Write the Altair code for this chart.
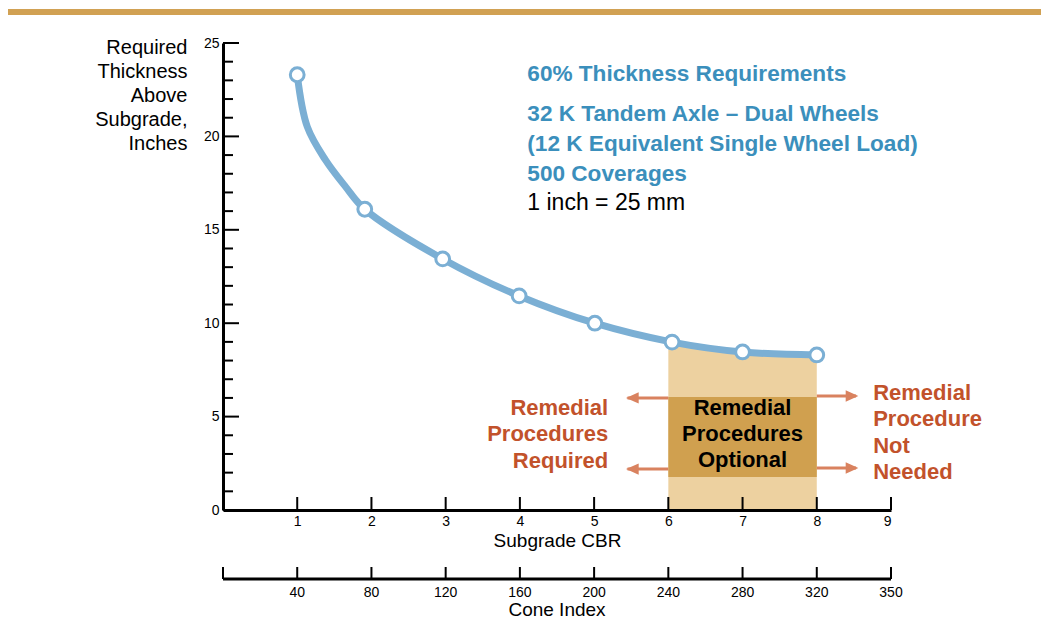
import altair as alt
import pandas as pd

# ---- data ----
# circle markers on the curve
cbr = [1.0, 1.91, 2.96, 3.99, 5.01, 6.05, 7.0, 8.0]
thickness = [23.3, 16.1, 13.44, 11.46, 10.0, 8.99, 8.46, 8.3]

# the drawn curve (markers plus samples on the steep part)
curve_cbr = [1.0, 1.135, 1.38, 1.65, 1.91, 2.96, 3.99, 5.01, 6.05, 7.0, 8.0]
curve_t = [23.3, 20.52, 18.74, 17.31, 16.1, 13.44, 11.46, 10.0, 8.99, 8.46, 8.3]

# optional-procedure zone (tan area under the curve)
zone_cbr = [6.0, 7.0, 8.0]
zone_top = [9.05, 8.46, 8.3]

y_major = [0, 5, 10, 15, 20, 25]
y_minor = [1, 2, 3, 4, 6, 7, 8, 9, 11, 12, 13, 14, 16, 17, 18, 19, 21, 22, 23, 24]
x_ticks = [1, 2, 3, 4, 5, 6, 7, 8, 9]
cone_pos = [0, 1, 2, 3, 4, 5, 6, 7, 8, 9]
cone_labels = ["", "40", "80", "120", "160", "200", "240", "280", "320", "350"]

W, H = 668, 467
FONT = "Liberation Sans"
BLUE_LINE = "#7BAFD4"
BLUE_TEXT = "#3B8FBC"
RED_TEXT = "#C2522B"
ARROW = "#D9825F"
TAN_LIGHT = "#EDD1A0"
TAN_DARK = "#D0A04F"
BAND = "#D1A153"

xs = alt.Scale(domain=[0, 9], nice=False, zero=False)
ys = alt.Scale(domain=[0, 25], nice=False, zero=False)

X_AX = alt.Axis(
    values=x_ticks, ticks=False, grid=False, format="d",
    domainColor="black", domainWidth=3, zindex=1,
    labelFontSize=14, labelColor="black", labelPadding=4,
    title="Subgrade CBR", titleFontSize=19, titleFontWeight="normal",
    titleColor="black", titlePadding=3,
)
Y_AX = alt.Axis(
    values=y_major, ticks=False, grid=False, format="d",
    domainColor="black", domainWidth=3, zindex=1,
    labelFontSize=14, labelColor="black", labelPadding=4,
    title=["Required", "Thickness", "Above", "Subgrade,", "Inches"],
    titleAngle=0, titleAlign="right", titleBaseline="alphabetic",
    titleX=-36, titleY=10, titleFontSize=20, titleLineHeight=24,
    titleFontWeight="normal", titleColor="black",
)

def X(field):
    return alt.X(field, scale=xs, axis=X_AX)

def Y(field):
    return alt.Y(field, scale=ys, axis=Y_AX)

markers = pd.DataFrame({"cbr": cbr, "t": thickness})
curve = pd.DataFrame({"cbr": curve_cbr, "t": curve_t})
zone = pd.DataFrame({"cbr": zone_cbr, "t": zone_top})
one = alt.Chart(pd.DataFrame({"k": [0]}))  # single-row base for annotations

band = one.mark_rule(color=BAND, strokeWidth=6).encode(
    x=alt.value(-215), x2=alt.value(W + 150), y=alt.value(-31)
)

area = alt.Chart(zone).mark_area(color=TAN_LIGHT, interpolate="monotone").encode(
    x=X("cbr:Q"), y=Y("t:Q")
)

box = one.mark_rect(color=TAN_DARK).encode(
    x=alt.datum(6.0), x2=alt.datum(8.0), y=alt.datum(1.77), y2=alt.datum(6.05)
)

def shaft(x1, x2, y):
    return one.mark_rule(color=ARROW, strokeWidth=3).encode(
        x=alt.datum(x1), x2=alt.datum(x2), y=alt.datum(y)
    )

def head(x, y, left=True):
    shape = "M0,0L2,-0.9L2,0.9Z" if left else "M0,0L-2,-0.9L-2,0.9Z"
    return one.mark_point(shape=shape, filled=True, color=ARROW, size=160, opacity=1).encode(
        x=alt.datum(x), y=alt.datum(y)
    )

arrows = [
    shaft(6.0, 5.45, 6.0), head(5.43, 6.0, True),
    shaft(6.0, 5.45, 2.19), head(5.43, 2.19, True),
    shaft(8.0, 8.53, 6.1), head(8.56, 6.1, False),
    shaft(8.0, 8.53, 2.25), head(8.56, 2.25, False),
]

line = alt.Chart(curve).mark_line(
    color=BLUE_LINE, strokeWidth=7, interpolate="catmull-rom"
).encode(x=X("cbr:Q"), y=Y("t:Q"))

points = alt.Chart(markers).mark_point(
    shape="circle", filled=True, fill="white", stroke=BLUE_LINE,
    strokeWidth=3, size=190, opacity=1,
).encode(x=X("cbr:Q"), y=Y("t:Q"))

# custom inward axis ticks
ymaj = alt.Chart(pd.DataFrame({"t": y_major})).mark_rule(color="black", strokeWidth=2).encode(
    y=Y("t:Q"), x=alt.value(0), x2=alt.value(16)
)
ymin = alt.Chart(pd.DataFrame({"t": y_minor})).mark_rule(color="black", strokeWidth=2).encode(
    y=Y("t:Q"), x=alt.value(0), x2=alt.value(10)
)
xtk = alt.Chart(pd.DataFrame({"cbr": x_ticks})).mark_rule(color="black", strokeWidth=2).encode(
    x=X("cbr:Q"), y=alt.value(H), y2=alt.value(H - 13)
)

# secondary Cone Index axis
cone = pd.DataFrame({"cbr": cone_pos, "lab": cone_labels})
cone_line = one.mark_rule(color="black", strokeWidth=3).encode(
    x=alt.datum(0), x2=alt.datum(9), y=alt.value(H + 69)
)
cone_ticks = alt.Chart(cone).mark_rule(color="black", strokeWidth=2).encode(
    x=X("cbr:Q"), y=alt.value(H + 69), y2=alt.value(H + 57)
)
cone_labs = alt.Chart(cone).mark_text(fontSize=14, color="black", baseline="alphabetic").encode(
    x=X("cbr:Q"), y=alt.value(H + 87), text="lab:N"
)
cone_title = one.mark_text(
    text="Cone Index", fontSize=19, color="black", baseline="alphabetic"
).encode(x=alt.datum(4.5), y=alt.value(H + 106))

# annotations
t1 = one.mark_text(
    text="60% Thickness Requirements", align="left", baseline="alphabetic",
    fontSize=22.6, fontWeight="bold", color=BLUE_TEXT,
).encode(x=alt.datum(4.1), y=alt.datum(22.97))
t2 = one.mark_text(
    text=["32 K Tandem Axle \u2013 Dual Wheels", "(12 K Equivalent Single Wheel Load)", "500 Coverages"],
    align="left", baseline="alphabetic", lineHeight=30,
    fontSize=22.6, fontWeight="bold", color=BLUE_TEXT,
).encode(x=alt.datum(4.1), y=alt.datum(20.82))
t3 = one.mark_text(
    text="1 inch = 25 mm", align="left", baseline="alphabetic",
    fontSize=23, color="black",
).encode(x=alt.datum(4.1), y=alt.datum(16.06))

req = one.mark_text(
    text=["Remedial", "Procedures", "Required"], align="right", baseline="alphabetic",
    lineHeight=26.5, fontSize=22, fontWeight="bold", color=RED_TEXT,
).encode(x=alt.datum(5.19), y=alt.datum(5.09))
opt = one.mark_text(
    text=["Remedial", "Procedures", "Optional"], align="center", baseline="alphabetic",
    lineHeight=26, fontSize=22, fontWeight="bold", color="black",
).encode(x=alt.datum(7.0), y=alt.datum(5.09))
notn = one.mark_text(
    text=["Remedial", "Procedure", "Not", "Needed"], align="left", baseline="alphabetic",
    lineHeight=26.5, fontSize=22, fontWeight="bold", color=RED_TEXT,
).encode(x=alt.datum(8.76), y=alt.datum(5.89))

chart = alt.layer(
    area, line, points, band, box, *arrows, ymaj, ymin, xtk,
    cone_line, cone_ticks, cone_labs, cone_title,
    t1, t2, t3, req, opt, notn,
).properties(
    width=W, height=H,
    autosize=alt.AutoSizeParams(type="none"),
    padding={"left": 215, "top": 35, "right": 150, "bottom": 110},
).configure(font=FONT).configure_view(stroke=None)

chart.save("out.html", embed_options={"renderer": "svg", "actions": False})
